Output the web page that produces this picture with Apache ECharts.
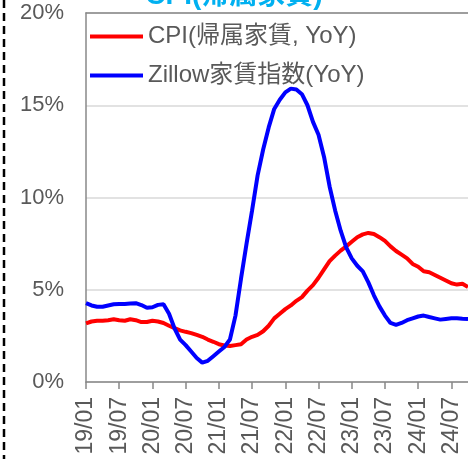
<!DOCTYPE html>
<html><head><meta charset="utf-8">
<script src="https://cdn.jsdelivr.net/npm/echarts@6/dist/echarts.min.js"></script>
<style>html,body{margin:0;padding:0;background:#fff;}#c{width:468px;height:459px;}</style>
</head><body><div id="c"></div>
<script>
const categories = [];
for (let y = 19; y <= 24; y++) for (let m = 1; m <= 12; m++) {
  if (y === 24 && m > 10) break;
  categories.push(y + '/' + (m < 10 ? '0' + m : m));
}
const cpiRent = [3.18,3.28,3.32,3.32,3.35,3.4,3.35,3.32,3.4,3.35,3.25,3.25,
  3.32,3.28,3.2,3.05,2.92,2.8,2.72,2.65,2.55,2.45,2.3,2.18,
  2.05,1.98,1.95,2.0,2.05,2.3,2.45,2.55,2.75,3.05,3.45,3.7,
  3.95,4.15,4.4,4.6,4.95,5.25,5.65,6.1,6.55,6.85,7.12,7.35,
  7.6,7.85,8.0,8.08,8.02,7.85,7.65,7.35,7.1,6.9,6.7,6.4,
  6.25,6.0,5.95,5.8,5.65,5.5,5.35,5.28,5.32,5.15];
const zillow = [4.27,4.15,4.08,4.08,4.15,4.21,4.23,4.23,4.25,4.27,4.17,4.02,
  4.05,4.18,4.21,3.7,2.9,2.3,2.0,1.65,1.3,1.05,1.15,1.4,
  1.65,1.9,2.3,3.6,5.6,7.5,9.3,11.2,12.6,13.8,14.8,15.3,
  15.7,15.9,15.85,15.6,15.0,14.1,13.4,12.2,10.6,9.3,8.2,7.3,
  6.7,6.3,6.0,5.4,4.7,4.1,3.6,3.2,3.1,3.2,3.35,3.45,
  3.55,3.6,3.52,3.45,3.38,3.42,3.45,3.45,3.43,3.42];
const seriesNames = ['CPI(帰属家賃, YoY)', 'Zillow家賃指数(YoY)'];
const titleText = 'CPI(帰属家賃)';
const FONT = "'Liberation Sans', Arial, 'Noto Sans CJK JP', sans-serif";

const chart = echarts.init(document.getElementById('c'), null, {renderer: 'canvas'});
chart.setOption({
  animation: false,
  backgroundColor: '#fff',
  textStyle: {fontFamily: FONT},
  grid: {left: 86, right: 0, top: 13, bottom: 77, containLabel: false},
  graphic: [
    {type: 'text', left: 'center', top: -18, style: {text: titleText, fill: '#00B0F0', font: "bold 28px " + FONT}},
    {type: 'line', shape: {x1: 4, y1: 0, x2: 4, y2: 459}, style: {stroke: '#000', lineWidth: 2.5, lineDash: [8, 5]}}
  ],
  legend: {
    orient: 'vertical', left: 90, top: 23, padding: 0, itemWidth: 53, itemHeight: 4, itemGap: 12, icon: 'rect',
    textStyle: {fontSize: 24, color: '#595959', lineHeight: 27, fontFamily: FONT},
    data: seriesNames
  },
  xAxis: [{
    type: 'category', data: categories, boundaryGap: false,
    axisLine: {lineStyle: {color: '#888', width: 1.5}},
    axisTick: {interval: 5, length: 7, lineStyle: {color: '#888', width: 1.5}},
    axisLabel: {interval: 5, rotate: 90, fontSize: 23, color: '#595959', margin: 15, fontFamily: FONT},
    splitLine: {show: false}
  }, {
    type: 'category', data: categories, boundaryGap: false, position: 'top',
    axisLine: {lineStyle: {color: '#888', width: 1.5}},
    axisTick: {show: false}, axisLabel: {show: false}, splitLine: {show: false}
  }],
  yAxis: {
    type: 'value', min: 0, max: 20, interval: 5,
    axisLine: {show: true, lineStyle: {color: '#888', width: 1.5}},
    axisTick: {show: false},
    axisLabel: {formatter: '{value}%', fontSize: 22, color: '#595959', margin: 22, fontFamily: FONT},
    splitLine: {lineStyle: {color: '#d9d9d9', width: 1.5}}
  },
  series: [
    {name: seriesNames[0], type: 'line', data: cpiRent, showSymbol: false, symbol: 'none',
     lineStyle: {color: '#FF0000', width: 4}, itemStyle: {color: '#FF0000'}},
    {name: seriesNames[1], type: 'line', data: zillow, showSymbol: false, symbol: 'none',
     lineStyle: {color: '#0000FF', width: 4}, itemStyle: {color: '#0000FF'}}
  ]
});
</script></body></html>
